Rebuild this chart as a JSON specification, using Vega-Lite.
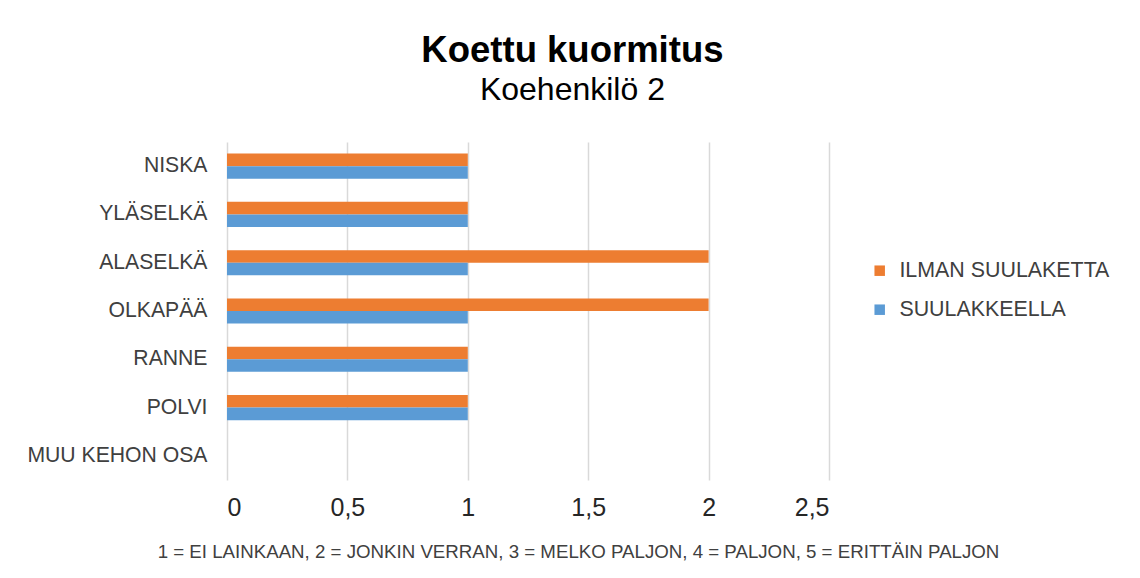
{
  "$schema": "https://vega.github.io/schema/vega-lite/v6.json",
  "width": 602,
  "height": 338,
  "padding": {"left": 26, "top": 32, "right": 20, "bottom": 10},
  "background": "white",
  "title": {
    "text": "Koettu kuormitus",
    "subtitle": "Koehenkilö 2",
    "anchor": "middle",
    "frame": "bounds",
    "font": "Liberation Sans",
    "fontSize": 36.5,
    "fontWeight": "bold",
    "color": "#000000",
    "subtitleFont": "Liberation Sans",
    "subtitleFontSize": 32,
    "subtitleColor": "#000000",
    "subtitlePadding": 6,
    "offset": 36,
    "dx": 4
  },
  "data": {
    "values": [
      {"osa": "NISKA", "sarja": "ILMAN SUULAKETTA", "arvo": 1},
      {"osa": "NISKA", "sarja": "SUULAKKEELLA", "arvo": 1},
      {"osa": "YLÄSELKÄ", "sarja": "ILMAN SUULAKETTA", "arvo": 1},
      {"osa": "YLÄSELKÄ", "sarja": "SUULAKKEELLA", "arvo": 1},
      {"osa": "ALASELKÄ", "sarja": "ILMAN SUULAKETTA", "arvo": 2},
      {"osa": "ALASELKÄ", "sarja": "SUULAKKEELLA", "arvo": 1},
      {"osa": "OLKAPÄÄ", "sarja": "ILMAN SUULAKETTA", "arvo": 2},
      {"osa": "OLKAPÄÄ", "sarja": "SUULAKKEELLA", "arvo": 1},
      {"osa": "RANNE", "sarja": "ILMAN SUULAKETTA", "arvo": 1},
      {"osa": "RANNE", "sarja": "SUULAKKEELLA", "arvo": 1},
      {"osa": "POLVI", "sarja": "ILMAN SUULAKETTA", "arvo": 1},
      {"osa": "POLVI", "sarja": "SUULAKKEELLA", "arvo": 1},
      {"osa": "MUU KEHON OSA", "sarja": "ILMAN SUULAKETTA", "arvo": 0},
      {"osa": "MUU KEHON OSA", "sarja": "SUULAKKEELLA", "arvo": 0}
    ]
  },
  "mark": {"type": "bar"},
  "encoding": {
    "y": {
      "field": "osa",
      "type": "nominal",
      "sort": ["NISKA", "YLÄSELKÄ", "ALASELKÄ", "OLKAPÄÄ", "RANNE", "POLVI", "MUU KEHON OSA"],
      "scale": {"paddingInner": 0.48, "paddingOuter": 0.24},
      "axis": {
        "title": null,
        "domain": false,
        "ticks": false,
        "grid": false,
        "labelFont": "Liberation Sans",
        "labelFontSize": 21.2,
        "labelColor": "#404040",
        "labelPadding": 20,
        "labelLimit": 400
      }
    },
    "x": {
      "field": "arvo",
      "type": "quantitative",
      "scale": {"domain": [0, 2.5]},
      "axis": {
        "values": [0, 0.5, 1, 1.5, 2, 2.5],
        "labelExpr": "replace(toString(datum.value), '.', ',')",
        "domain": false,
        "ticks": false,
        "grid": true,
        "gridColor": "#D9D9D9",
        "gridWidth": 1.5,
        "labelFont": "Liberation Sans",
        "labelFontSize": 25,
        "labelColor": "#262626",
        "labelPadding": 15,
        "title": "1 = EI LAINKAAN,  2 = JONKIN VERRAN, 3 = MELKO PALJON, 4 = PALJON, 5 = ERITTÄIN PALJON",
        "titleFont": "Liberation Sans",
        "titleFontSize": 18.7,
        "titleFontWeight": "normal",
        "titleColor": "#404040",
        "titleX": 351,
        "titleY": 71,
        "titleAlign": "center",
        "titleBaseline": "middle"
      }
    },
    "yOffset": {
      "field": "sarja",
      "type": "nominal",
      "sort": ["ILMAN SUULAKETTA", "SUULAKKEELLA"]
    },
    "color": {
      "field": "sarja",
      "type": "nominal",
      "scale": {"domain": ["ILMAN SUULAKETTA", "SUULAKKEELLA"], "range": ["#ED7D31", "#5B9BD5"]},
      "legend": {
        "orient": "none",
        "legendX": 642,
        "legendY": 118,
        "title": null,
        "symbolType": "square",
        "symbolSize": 110,
        "symbolStrokeWidth": 0,
        "labelFont": "Liberation Sans",
        "labelFontSize": 21.4,
        "labelColor": "#404040",
        "labelOffset": 9,
        "labelLimit": 400,
        "rowPadding": 16
      }
    }
  },
  "config": {"view": {"stroke": null}}
}
